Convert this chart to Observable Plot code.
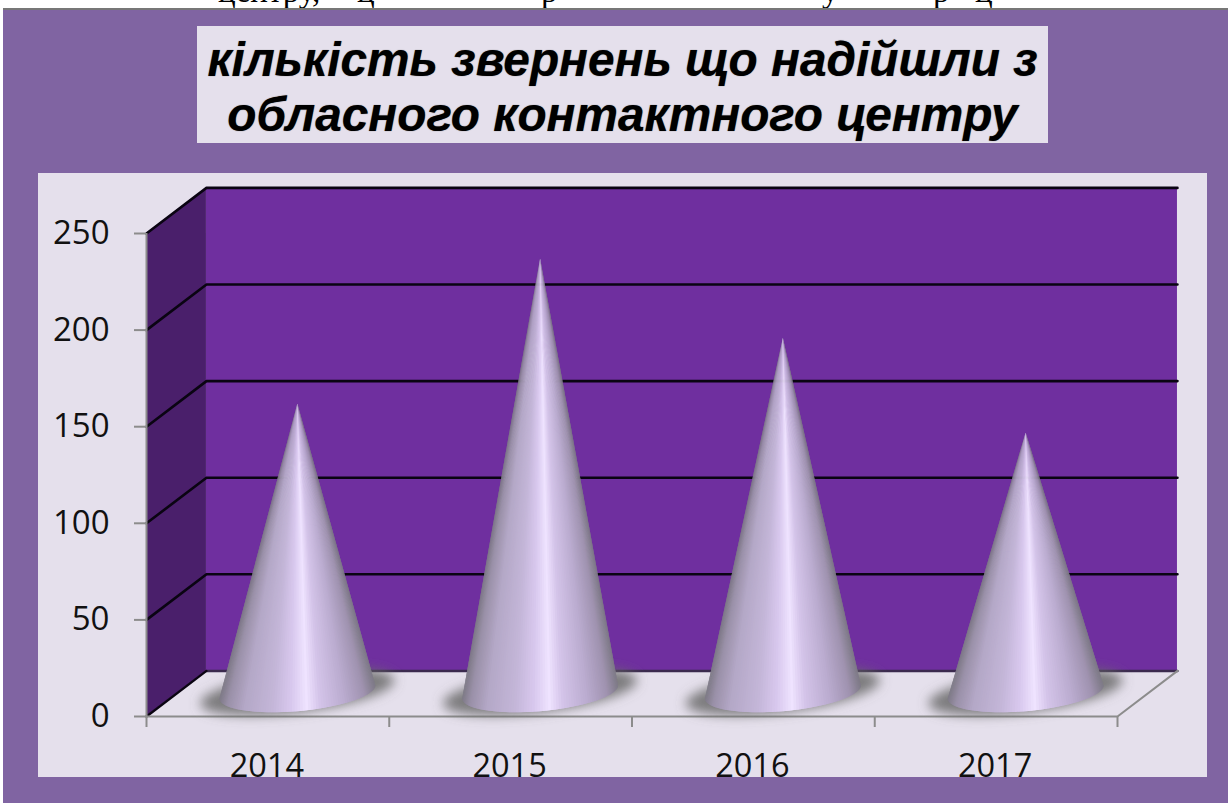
<!DOCTYPE html>
<html><head><meta charset="utf-8">
<style>
html,body{margin:0;padding:0;background:#fff;width:1228px;height:803px;overflow:hidden}
#strip{position:absolute;left:0;top:0;width:1228px;height:8px;overflow:hidden;font:33px/33px "Liberation Serif",serif;color:#000}
#strip span{position:absolute;top:-25px;white-space:nowrap}
#frame{position:absolute;left:3px;top:8px;right:0;bottom:0;background:#8064a2;border-top:2px solid #777}
#titlebox{position:absolute;left:197px;top:26px;width:851px;height:117px;background:#e5e0ec;color:#000;
 font:italic bold 47.8px/55px "Liberation Sans",sans-serif;text-align:center;padding-top:6px;box-sizing:border-box;
 text-shadow:0 0 1px #555;white-space:nowrap}
#panel{position:absolute;left:38px;top:173px}
#panel svg{display:block}
</style></head><body>
<div id="strip"><span style="left:218px">центру,</span><span style="left:357px">ц</span><span style="left:541px">р</span><span style="left:822px">у</span><span style="left:933px">р</span><span style="left:975px">ц</span></div>
<div id="frame"></div>
<div id="titlebox">кількість звернень що надійшли з<br>обласного контактного центру</div>
<div id="panel"></div>
<script src="https://cdn.jsdelivr.net/npm/d3@7"></script>
<script src="https://cdn.jsdelivr.net/npm/@observablehq/plot@0.6"></script>
<script>
const years = [2014, 2015, 2016, 2017];
const counts = [150, 225, 184, 135];
const yTicks = [0, 50, 100, 150, 200, 250];
const gridValues = [50, 100, 150, 200, 250];
const shadeStops = [0, .05, .16, .34, .46, .56, .65, .8, .93, 1];
const shadeColors = ["#7f7b88", "#9a90a8", "#b4a8c7", "#c4b6d8", "#d8c8ee", "#efe3ff", "#d3c3e8", "#bbacd0", "#a093b0", "#7f7b88"];

// 3-D box depth and cone footprint, in scale units
const depthX = 0.247, depthY = 23.6;
const tipOffset = 11.8, baseCenter = 12.5;
const coneA = 0.321, coneB = 10, coneTilt = 3.4;
const shadowA = 0.4, shadowB = 10.5, shadowTilt = 6;

const shade = d3.scaleLinear().domain(shadeStops).range(shadeColors);
const centers = years.map((_, i) => i + .5 + depthX / 2);

const facets = [];
const N = 90;
years.forEach((yr, i) => {
  const cx = centers[i], tip = counts[i] + tipOffset;
  const pt = t => [cx + coneA * Math.cos(t), baseCenter + coneTilt * Math.cos(t) - coneB * Math.sin(t)];
  for (let k = 0; k < N; k++) {
    const a = Math.PI * (1 - k / N), b = Math.PI * (1 - Math.min(k + 2, N) / N);
    const u = (Math.cos(Math.PI * (1 - (k + .5) / N)) + 1) / 2;
    const [xa, ya] = pt(a), [xb, yb] = pt(b);
    const id = yr + "-" + k, shadeColor = shade(u);
    facets.push({id, shadeColor, x1: xa, y1: ya, x2: xb, y2: yb});
    facets.push({id, shadeColor, x1: cx, y1: tip, x2: cx, y2: tip});
  }
});
const shadows = [];
years.forEach((yr, i) => {
  for (let k = 0; k <= 40; k++) {
    const t = Math.PI * (1 - k / 40);
    const x = centers[i] + shadowA * Math.cos(t), m = baseCenter + shadowTilt * Math.cos(t);
    shadows.push({yr, x1: x, y1: m - shadowB * Math.sin(t), x2: x, y2: m + shadowB * Math.sin(t)});
  }
});

const backWall = [{x1: depthX, x2: 4 + depthX, y1: depthY, y2: 250 + depthY}];
const sideWall = [{x: 0, y1: 0, y2: 250}, {x: depthX, y1: depthY, y2: 250 + depthY}];
const gridLines = gridValues.flatMap(v => [
  {v, x: 0, y: v}, {v, x: depthX, y: v + depthY}, {v, x: 4 + depthX, y: v + depthY}
]);

const plot = Plot.plot({
  width: 1169, height: 604,
  marginLeft: 108, marginRight: 90, marginTop: 60, marginBottom: 61,
  style: {background: "#e5e0ec", overflow: "visible", fontFamily: "'Open Sans',sans-serif"},
  x: {domain: [0, 4]},
  y: {domain: [0, 250]},
  marks: [
    Plot.rect(backWall, {x1: "x1", x2: "x2", y1: "y1", y2: "y2", fill: "#6f2f9f"}),
    Plot.areaY(sideWall, {x: "x", y1: "y1", y2: "y2", fill: "#4a1f6b", curve: "linear"}),
    Plot.line([[depthX, depthY], [4 + depthX, depthY]], {stroke: "#3b2a4e", strokeWidth: 2.5}),
    Plot.line(gridLines, {x: "x", y: "y", z: "v", stroke: "#0a0412", strokeWidth: 2.6}),
    Plot.line([[0, 0], [depthX, depthY]], {stroke: "#0a0412", strokeWidth: 2.4}),
    Plot.line([[0, 0], [4, 0], [4 + depthX, depthY]], {stroke: "#8c8c8c", strokeWidth: 2}),
    Plot.ruleX([0], {y1: 0, y2: 250, stroke: "#8c8c8c", strokeWidth: 2}),
    Plot.area(shadows, {x1: "x1", y1: "y1", x2: "x2", y2: "y2", z: "yr", fill: "#6a6a6a", fillOpacity: .85}),
    Plot.area(facets, {x1: "x1", y1: "y1", x2: "x2", y2: "y2", z: "id", fill: "shadeColor"}),
    Plot.axisY(yTicks, {tickSize: 12, tickPadding: 25, stroke: "#8c8c8c", fill: "#111", fontSize: 33, label: null, strokeWidth: 2}),
    Plot.axisX([0, 1, 2, 3, 4], {tickSize: 11, tickFormat: () => "", stroke: "#8c8c8c", label: null, strokeWidth: 2}),
    Plot.axisX([.5, 1.5, 2.5, 3.5], {tickSize: 0, tickPadding: 37, dx: -1, tickFormat: d => String(years[d - .5]), fill: "#111", fontSize: 32.5, label: null})
  ]
});
document.getElementById("panel").appendChild(plot);
const svg = d3.select(plot);
svg.insert("defs", ":first-child").html('<filter id="soft" x="-20%" y="-40%" width="140%" height="180%"><feGaussianBlur stdDeviation="6"/></filter>');
svg.selectAll('g[fill="#6a6a6a"]').attr("filter", "url(#soft)");
</script>
</body></html>
